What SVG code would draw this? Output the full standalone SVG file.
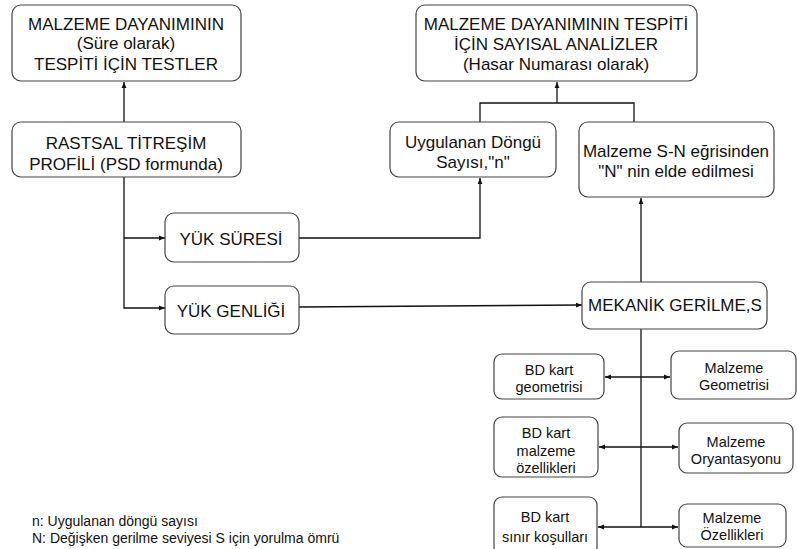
<svg xmlns="http://www.w3.org/2000/svg" width="797" height="549" viewBox="0 0 797 549">
<style>
.box{fill:#fff;stroke:#444;stroke-width:1.2}
.t{font-family:"Liberation Sans",Arial,sans-serif;font-size:17px;fill:#111;text-anchor:middle}
.s{font-family:"Liberation Sans",Arial,sans-serif;font-size:14.5px;fill:#111;text-anchor:middle}
.l{font-family:"Liberation Sans",Arial,sans-serif;font-size:14px;fill:#111}
.c{fill:none;stroke:#111;stroke-width:1.3}
</style>
<defs>
<marker id="ah" viewBox="0 0 10 10" refX="10" refY="5" markerWidth="6" markerHeight="6" orient="auto-start-reverse" markerUnits="userSpaceOnUse">
<path d="M0,1 L10,5 L0,9 z" fill="#111"/>
</marker>
</defs>
<rect width="797" height="549" fill="#fff"/>
<g id="connectors">
<line class="c" x1="124" y1="122" x2="124" y2="82" marker-end="url(#ah)"/>
<polyline class="c" points="124,177 124,308 165,308" marker-end="url(#ah)"/>
<line class="c" x1="124" y1="238" x2="165" y2="238" marker-end="url(#ah)"/>
<polyline class="c" points="299,238 480,238 480,178" marker-end="url(#ah)"/>
<polyline class="c" points="480,122 480,103 634,103 634,122"/>
<line class="c" x1="557" y1="103" x2="557" y2="82" marker-end="url(#ah)"/>
<line class="c" x1="299" y1="307" x2="582" y2="305" marker-end="url(#ah)"/>
<line class="c" x1="641" y1="282" x2="641" y2="198" marker-end="url(#ah)"/>
<line class="c" x1="641" y1="329" x2="641" y2="527"/>
<line class="c" x1="605" y1="377" x2="670" y2="377" marker-start="url(#ah)" marker-end="url(#ah)"/>
<line class="c" x1="599" y1="447" x2="678" y2="447" marker-start="url(#ah)" marker-end="url(#ah)"/>
<line class="c" x1="598" y1="527" x2="678" y2="527" marker-start="url(#ah)" marker-end="url(#ah)"/>
</g>
<g id="test">
<rect class="box" x="12" y="5" width="229" height="76" rx="9"/>
<text class="t" x="126" y="30">MALZEME DAYANIMININ</text>
<text class="t" x="126" y="49">(Süre olarak)</text>
<text class="t" x="126" y="70">TESPİTİ İÇİN TESTLER</text>
</g>
<g id="analiz">
<rect class="box" x="416" y="5" width="281" height="76" rx="9"/>
<text class="t" x="556" y="30">MALZEME DAYANIMININ TESPİTİ</text>
<text class="t" x="556" y="50">İÇİN SAYISAL ANALİZLER</text>
<text class="t" x="556" y="70">(Hasar Numarası olarak)</text>
</g>
<g id="profil">
<rect class="box" x="12" y="122" width="229" height="55" rx="9"/>
<text class="t" x="126" y="149">RASTSAL TİTREŞİM</text>
<text class="t" x="126" y="170">PROFİLİ (PSD formunda)</text>
</g>
<g id="dongu">
<rect class="box" x="390" y="122" width="166" height="55" rx="9"/>
<text class="t" x="473" y="148">Uygulanan Döngü</text>
<text class="t" x="473" y="168">Sayısı,"n"</text>
</g>
<g id="sn">
<rect class="box" x="579" y="122" width="195" height="75" rx="9"/>
<text class="t" x="676" y="157">Malzeme S-N eğrisinden</text>
<text class="t" x="676" y="177">"N" nin elde edilmesi</text>
</g>
<g id="sure">
<rect class="box" x="165" y="213" width="134" height="49" rx="9"/>
<text class="t" x="231" y="245">YÜK SÜRESİ</text>
</g>
<g id="genlik">
<rect class="box" x="165" y="286" width="134" height="48" rx="9"/>
<text class="t" x="231" y="317">YÜK GENLİĞİ</text>
</g>
<g id="gerilme">
<rect class="box" x="582" y="282" width="185" height="47" rx="9"/>
<text class="t" x="675" y="311">MEKANİK GERİLME,S</text>
</g>
<g id="bdgeo">
<rect class="box" x="494" y="354" width="110" height="45" rx="8"/>
<text class="s" x="549" y="375">BD kart</text>
<text class="s" x="549" y="392">geometrisi</text>
</g>
<g id="bdmal">
<rect class="box" x="494" y="417" width="104" height="60" rx="8"/>
<text class="s" x="546" y="438">BD kart</text>
<text class="s" x="546" y="456">malzeme</text>
<text class="s" x="546" y="473">özellikleri</text>
</g>
<g id="bdsinir">
<rect class="box" x="494" y="497" width="103" height="58" rx="8"/>
<text class="s" x="545" y="522">BD kart</text>
<text class="s" x="545" y="542">sınır koşulları</text>
</g>
<g id="mgeo">
<rect class="box" x="671" y="351" width="125" height="48" rx="8"/>
<text class="s" x="734" y="373">Malzeme</text>
<text class="s" x="734" y="390">Geometrisi</text>
</g>
<g id="mory">
<rect class="box" x="679" y="423" width="114" height="50" rx="8"/>
<text class="s" x="736" y="447">Malzeme</text>
<text class="s" x="736" y="464">Oryantasyonu</text>
</g>
<g id="mozl">
<rect class="box" x="679" y="504" width="107" height="43" rx="8"/>
<text class="s" x="732" y="523">Malzeme</text>
<text class="s" x="732" y="540">Özellikleri</text>
</g>
<g id="legend">
<text class="l" x="32" y="526">n: Uygulanan döngü sayısı</text>
<text class="l" x="32" y="543">N:  Değişken gerilme seviyesi S için yorulma ömrü</text>
</g>
</svg>
